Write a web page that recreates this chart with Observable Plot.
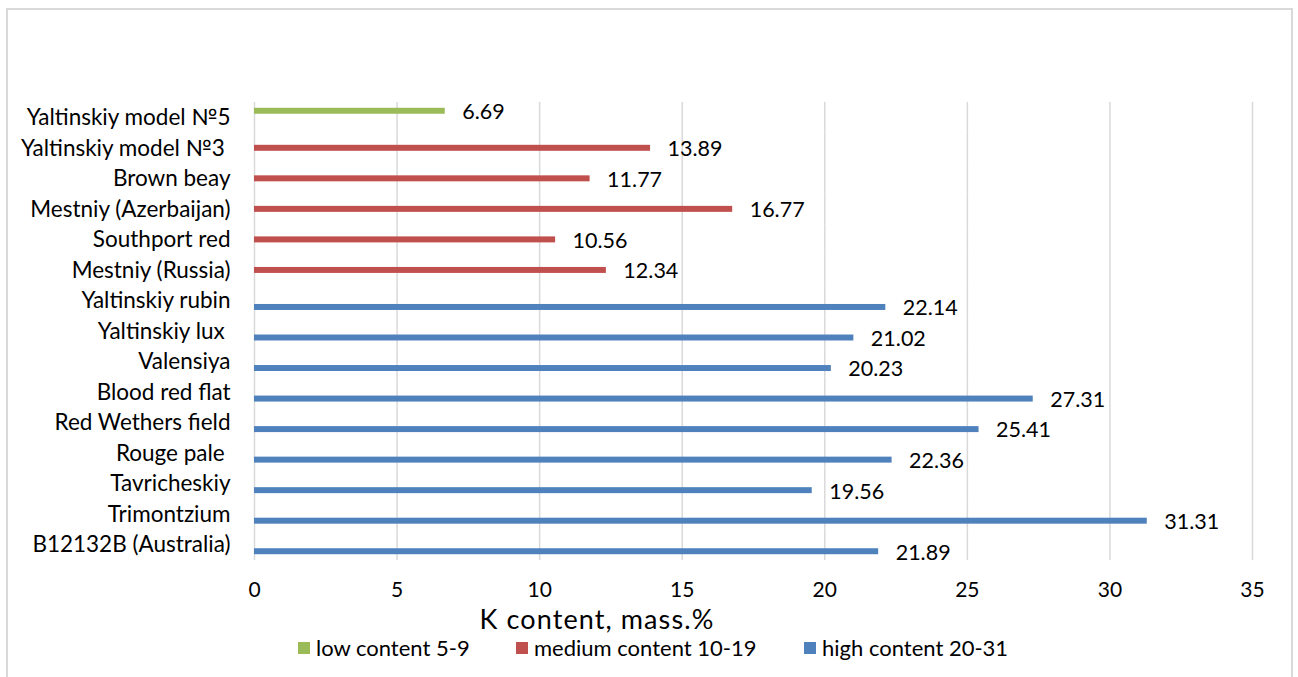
<!DOCTYPE html>
<html>
<head>
<meta charset="utf-8">
<script src="https://cdn.jsdelivr.net/npm/d3@7"></script>
<script src="https://cdn.jsdelivr.net/npm/@observablehq/plot@0.6"></script>
<style>
  html, body { margin: 0; padding: 0; background: #fff; }
  body { width: 1298px; height: 677px; overflow: hidden; position: relative; font-family: Lato, "Open Sans", sans-serif; }
  #frame { position: absolute; left: 6px; top: 8px; width: 1287px; height: 700px; border: 2px solid #d9d9d9; box-sizing: border-box; }
  #chart { position: absolute; left: 0; top: 0; }
  #chart svg text { white-space: pre; }
  #xtitle { position: absolute; top: 603px; left: 597px; transform: translateX(-50%); font-size: 27px; letter-spacing: 1.1px; line-height: 32px; height: 32px; color: #000; white-space: nowrap; }
  .leg { position: absolute; top: 637px; display: flex; align-items: center; font-size: 22px; line-height: 22px; color: #000; white-space: nowrap; }
  .leg span.sw { display: inline-block; width: 12px; height: 12px; margin-right: 6px; }
</style>
</head>
<body>
<div id="frame"></div>
<div id="chart"></div>
<div id="xtitle"></div>
<div id="legend"></div>
<script>
// ---- data ----
const names = [
  "Yaltinskiy model №5",
  "Yaltinskiy model №3 ",
  "Brown beay",
  "Mestniy (Azerbaijan)",
  "Southport red",
  "Mestniy (Russia)",
  "Yaltinskiy rubin",
  "Yaltinskiy lux ",
  "Valensiya",
  "Blood red flat",
  "Red Wethers field",
  "Rouge pale ",
  "Tavricheskiy",
  "Trimontzium",
  "B12132B (Australia)"
];
const values = [6.69, 13.89, 11.77, 16.77, 10.56, 12.34, 22.14, 21.02, 20.23, 27.31, 25.41, 22.36, 19.56, 31.31, 21.89];
const groups = ["low", "medium", "medium", "medium", "medium", "medium", "high", "high", "high", "high", "high", "high", "high", "high", "high"];
const seriesKeys = ["low", "medium", "high"];
const seriesLabels = ["low content 5-9", "medium content 10-19", "high content 20-31"];
const seriesColors = ["#9BBB59", "#C0504D", "#4F81BD"];
const xTicks = [0, 5, 10, 15, 20, 25, 30, 35];
const xTitle = "K content, mass.%";

const data = names.map((n, i) => ({name: n, value: values[i], group: groups[i]}));

const chart = Plot.plot({
  width: 1298,
  height: 604,
  marginLeft: 254,
  marginRight: 46,
  marginTop: 102,
  marginBottom: 44,
  style: {fontFamily: "Lato, 'Open Sans', sans-serif", fontSize: "21px", color: "#000", background: "transparent", overflow: "visible"},
  facet: {data, y: "name", marginLeft: 254},
  fy: {domain: names, paddingInner: 0, paddingOuter: 0, round: false, label: null, axis: "left", tickSize: 0, tickPadding: 24},
  y: {domain: seriesKeys, paddingInner: 0.08, paddingOuter: 0.89, round: false, axis: null},
  x: {domain: [0, 35], ticks: xTicks, tickSize: 0, tickPadding: 22, label: null, tickFormat: d => String(d)},
  color: {domain: seriesKeys, range: seriesColors},
  marks: [
    Plot.ruleX(xTicks, {stroke: "#d9d9d9", strokeWidth: 1.5}),
    Plot.barX(data, {x: "value", y: "group", fill: "group"}),
    Plot.text(data, {x: "value", y: "group", text: d => d.value.toFixed(2), textAnchor: "start", dx: 17, dy: 1, fontSize: 21.5, fill: "#000"})
  ]
});
document.getElementById("chart").appendChild(chart);
// larger category labels (fy axis)
chart.querySelectorAll("[aria-label='fy-axis'] text, [aria-label='fy-axis tick label'] text").forEach(t => t.style.fontSize = "22.5px");

document.getElementById("xtitle").textContent = xTitle;

const legLefts = [298, 516, 804];
const legend = document.getElementById("legend");
seriesLabels.forEach((lab, i) => {
  const item = document.createElement("div");
  item.className = "leg";
  item.style.left = legLefts[i] + "px";
  const sw = document.createElement("span");
  sw.className = "sw";
  sw.style.background = seriesColors[i];
  item.appendChild(sw);
  const t = document.createElement("span");
  t.textContent = lab;
  item.appendChild(t);
  legend.appendChild(item);
});
</script>
</body>
</html>
